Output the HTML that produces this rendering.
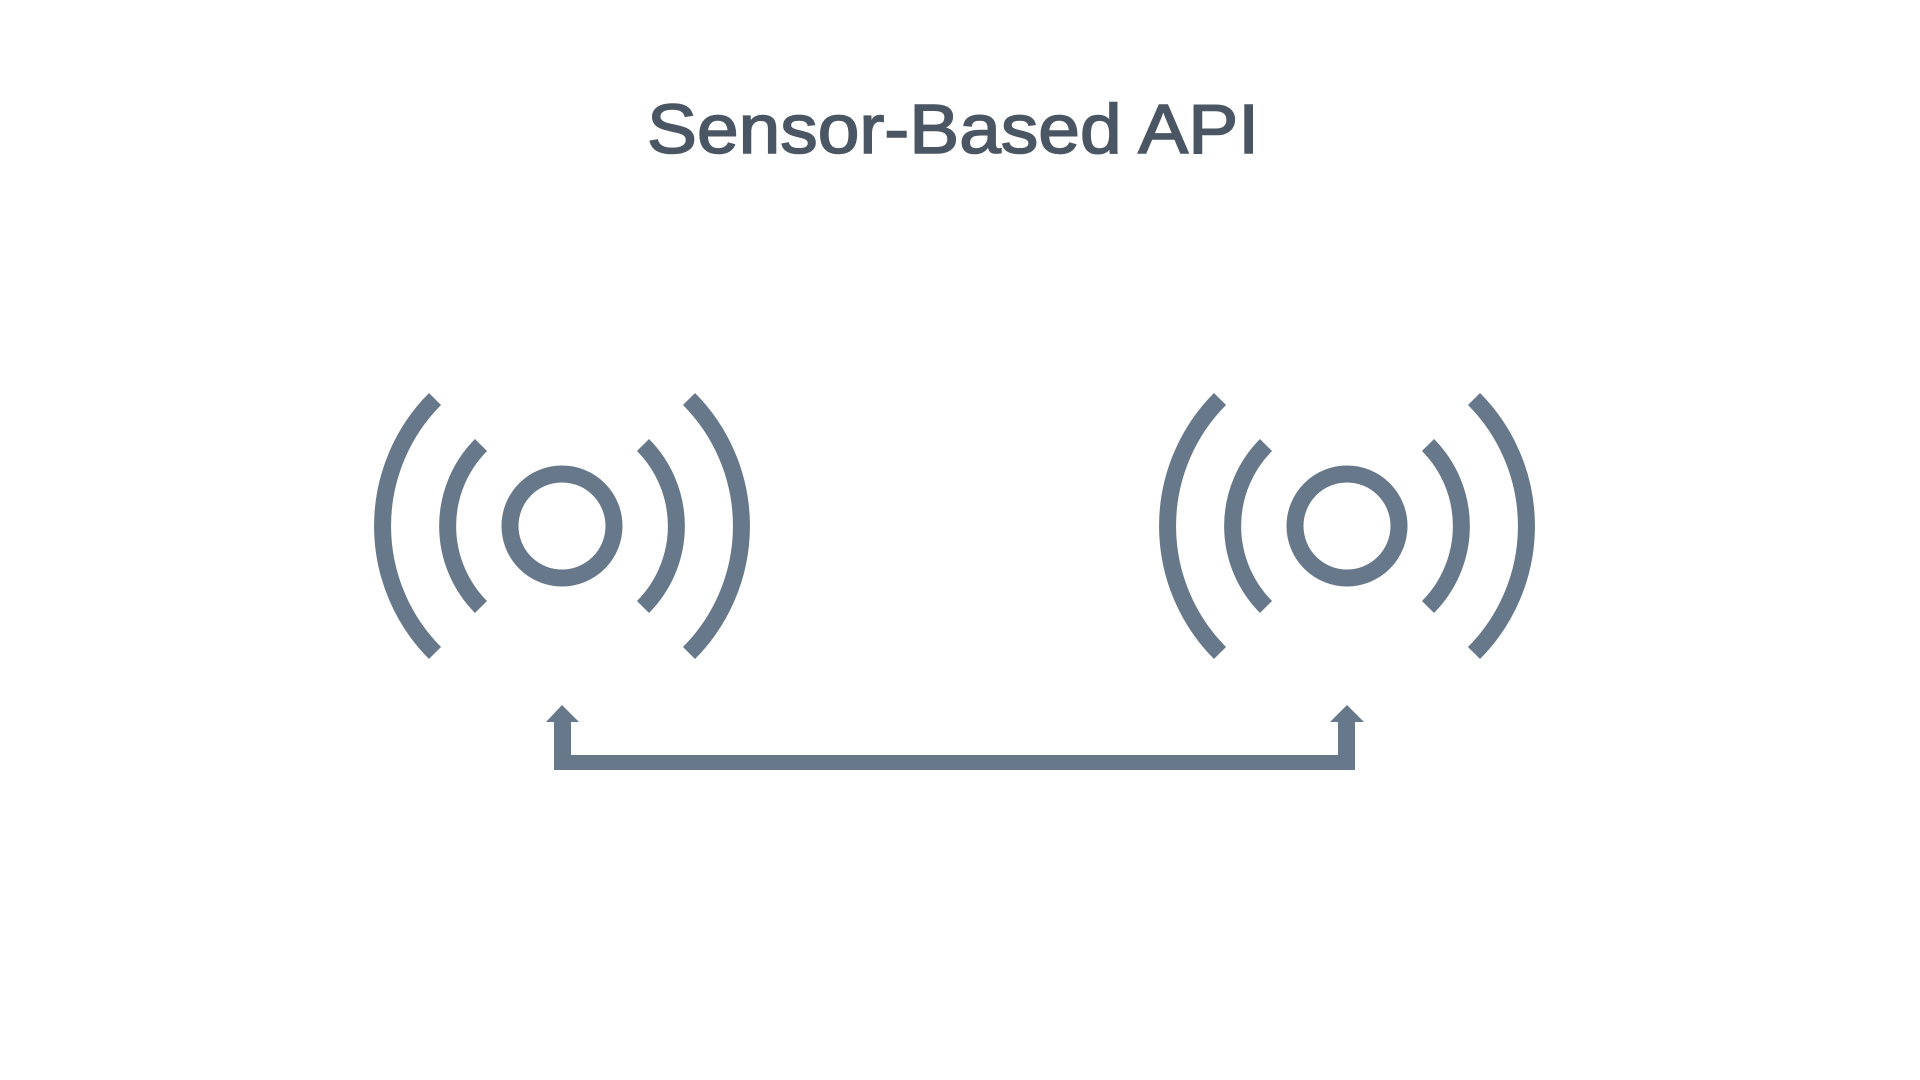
<!DOCTYPE html>
<html><head><meta charset="utf-8"><style>
html,body{margin:0;padding:0;background:#fff;width:1920px;height:1080px;overflow:hidden}
</style></head><body>
<svg width="1920" height="1080" viewBox="0 0 1920 1080" xmlns="http://www.w3.org/2000/svg">
<text x="953" y="153" text-anchor="middle" font-family="Liberation Sans, sans-serif" font-size="70" fill="#4a5663" stroke="#4a5663" stroke-width="1.6" textLength="612" lengthAdjust="spacingAndGlyphs">Sensor-Based API</text>
<g fill="none" stroke="#66788a" stroke-width="17">
  <g transform="translate(562,526)">
    <circle r="52"/>
    <path d="M-81,-81 A115,115 0 0 0 -81,81"/>
    <path d="M81,-81 A115,115 0 0 1 81,81"/>
    <path d="M-127,-127 A180,180 0 0 0 -127,127"/>
    <path d="M127,-127 A180,180 0 0 1 127,127"/>
  </g>
  <g transform="translate(1347,526)">
    <circle r="52"/>
    <path d="M-81,-81 A115,115 0 0 0 -81,81"/>
    <path d="M81,-81 A115,115 0 0 1 81,81"/>
    <path d="M-127,-127 A180,180 0 0 0 -127,127"/>
    <path d="M127,-127 A180,180 0 0 1 127,127"/>
  </g>
</g>
<g fill="#66788a">
  <rect x="554" y="718" width="17" height="52"/>
  <rect x="554" y="755" width="801" height="15"/>
  <rect x="1338" y="718" width="17" height="52"/>
  <polygon points="546,722 562,705 579,722"/>
  <polygon points="1330,722 1347,705 1364,722"/>
</g>
</svg>
</body></html>
